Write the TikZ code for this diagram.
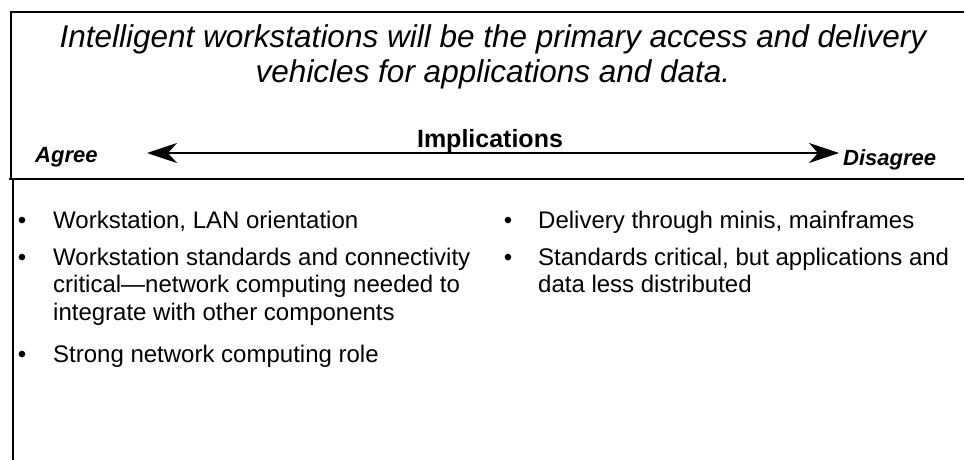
\documentclass[tikz,border=0pt]{standalone}
\usepackage{fontspec}
\setmainfont{Liberation Sans}
\usetikzlibrary{arrows.meta}
\tikzset{
  frame/.style={line width=2.4pt,black},
  bodytext/.style={inner sep=0pt,anchor=base west,align=left,font=\fontsize{24}{27.6}\selectfont},
  bul/.style={inner sep=0pt,anchor=base,font=\fontsize{24}{27.6}\selectfont},
  endlabel/.style={inner sep=0pt,anchor=base west,font=\fontsize{22}{26}\selectfont\bfseries\itshape},
  scalearrow/.style={line width=2pt,{Stealth[length=30pt,width=20pt,inset=9pt]}-{Stealth[length=30pt,width=20pt,inset=9pt]}}
}
\begin{document}
\begin{tikzpicture}[x=1pt,y=-1pt]
\useasboundingbox (0,0) rectangle (964,460);
% frame
\draw[frame] (966,12) -- (11,12) -- (11,179);
\draw[frame] (9,179) -- (966,179);
\draw[frame] (13,179) -- (13,462);
% title (anchor base = baseline of the last line)
\node[inner sep=0pt,anchor=base,align=center,font=\fontsize{31.5}{35}\selectfont\itshape] (title) at (493,82)
  {Intelligent workstations will be the primary access and delivery\\vehicles for applications and data.};
% implications scale
\node[inner sep=0pt,anchor=base,font=\fontsize{25}{28}\selectfont\bfseries] (impl) at (490,147) {Implications};
\node[endlabel] (agree) at (35,162) {Agree};
\node[endlabel] (disagree) at (843,165) {Disagree};
\coordinate (aL) at (147,153);
\coordinate (aR) at (839,153);
\draw[scalearrow] (aL) -- (aR);
% left column
\node[bul] (b1) at (22,228) {•};
\node[bodytext] (t1) at (53,228) {Workstation, LAN orientation};
\node[bul] (b2) at (22,265) {•};
\node[bodytext] (t2) at (53,320.2) {Workstation standards and connectivity\\critical—network computing needed to\\integrate with other components};
\node[bul] (b3) at (22,362) {•};
\node[bodytext] (t3) at (53,362) {Strong network computing role};
% right column
\node[bul] (b4) at (508,228) {•};
\node[bodytext] (t4) at (538,228) {Delivery through minis, mainframes};
\node[bul] (b5) at (508,265) {•};
\node[bodytext] (t5) at (538,292.6) {Standards critical, but applications and\\data less distributed};
\end{tikzpicture}
\end{document}
